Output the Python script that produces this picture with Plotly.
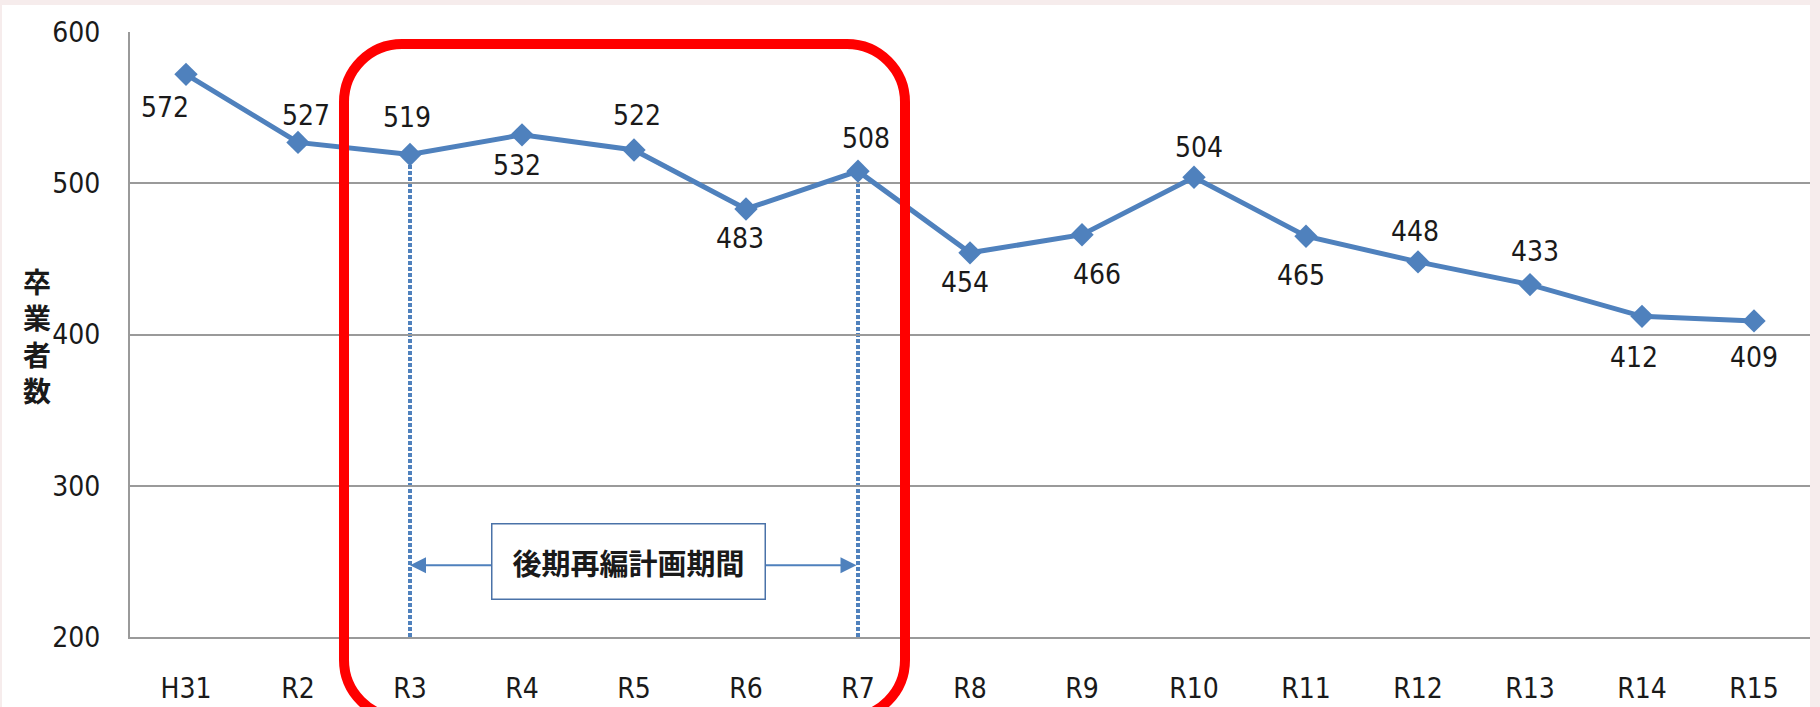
import plotly.graph_objects as go

# ---- data ----
categories = ["H31", "R2", "R3", "R4", "R5", "R6", "R7", "R8", "R9", "R10",
              "R11", "R12", "R13", "R14", "R15"]
graduates = [572, 527, 519, 532, 522, 483, 508, 454, 466, 504, 465, 448, 433, 412, 409]
y_ticks = [200, 300, 400, 500, 600]
period_start = "R3"
period_end = "R7"
period_label = "後期再編計画期間"
y_title = "卒業者数"

# ---- label offsets (px, dx right, dy down) ----
label_offsets = [(-21, 33), (8, -27), (-3, -37), (-5, 31), (3, -34), (-6, 30), (8, -33),
                 (-5, 30), (15, 40), (5, -30), (-5, 39), (-3, -30), (5, -33), (-8, 41), (0, 37)]

# ---- geometry ----
W, H = 1820, 707
ML, MR, MT, MB = 130, 10, 32, 70
PW, PH = W - ML - MR, H - MT - MB
YMIN, YMAX = 200, 600

def X(px):
    return (px - ML) / PW

def Y(py):
    return (H - MB - py) / PH

BLUE = "#4F81BD"
FONT = "DejaVu Sans Condensed, Liberation Sans Narrow, DejaVu Sans, sans-serif"
CJK = "Noto Sans CJK JP, sans-serif"
TXT = "#1a1a1a"
NUM_SIZE = 28

xs = list(range(len(categories)))

fig = go.Figure()
fig.add_trace(go.Scatter(
    x=xs, y=graduates, mode="lines+markers",
    line=dict(color=BLUE, width=5),
    marker=dict(symbol="diamond", size=18, color=BLUE),
    hoverinfo="skip", showlegend=False,
))

annotations = []
for i, (v, (dx, dy)) in enumerate(zip(graduates, label_offsets)):
    annotations.append(dict(
        x=i, y=v, xref="x", yref="y", text=str(v), showarrow=False,
        xshift=dx, yshift=-dy, font=dict(family=FONT, size=NUM_SIZE, color=TXT),
    ))

i0 = categories.index(period_start)
i1 = categories.index(period_end)
arrow_y = 247.5

# double arrow
annotations.append(dict(
    x=i0, y=arrow_y, ax=i1, ay=arrow_y, xref="x", yref="y", axref="x", ayref="y",
    text="", showarrow=True, arrowhead=2, startarrowhead=2, arrowside="end+start",
    arrowsize=1.6, startarrowsize=1.6, arrowwidth=2, arrowcolor=BLUE, standoff=0, startstandoff=0,
))
# label box
annotations.append(dict(
    x=(i0 + i1) / 2 - 0.045, y=250, xref="x", yref="y", text=period_label, showarrow=False,
    font=dict(family=CJK, size=29, color=TXT, weight="bold"),
    bgcolor="white", bordercolor="#4a72a8", borderwidth=1.5, width=270, height=72,
    align="center", valign="middle",
))
# y-axis title (stacked vertical)
annotations.append(dict(
    x=X(37), y=Y(336), xref="paper", yref="paper", text="<br>".join(list(y_title)),
    showarrow=False, font=dict(family=CJK, size=28, color=TXT, weight="bold"),
    xanchor="center", yanchor="middle",
))

shapes = []
# white panel
shapes.append(dict(type="rect", xref="paper", yref="paper", x0=X(2), x1=X(1810),
                   y0=Y(H + 20), y1=Y(5), fillcolor="white", line=dict(width=0), layer="below"))
# dotted verticals
for i in (i0, i1):
    shapes.append(dict(type="line", xref="x", yref="y", x0=i, x1=i, y0=YMIN, y1=graduates[i],
                       line=dict(color=BLUE, width=4, dash="4px,2px"), layer="below"))
# red rounded rectangle
L, R, T, B, r = 344, 905, 44, 718, 58
k = 0.552
def P(px, py):
    return f"{X(px):.5f},{Y(py):.5f}"
path = (
    f"M {P(L + r, T)} L {P(R - r, T)} "
    f"C {P(R - r + k * r, T)} {P(R, T + r - k * r)} {P(R, T + r)} "
    f"L {P(R, B - r)} "
    f"C {P(R, B - r + k * r)} {P(R - r + k * r, B)} {P(R - r, B)} "
    f"L {P(L + r, B)} "
    f"C {P(L + r - k * r, B)} {P(L, B - r + k * r)} {P(L, B - r)} "
    f"L {P(L, T + r)} "
    f"C {P(L, T + r - k * r)} {P(L + r - k * r, T)} {P(L + r, T)} Z"
)
shapes.append(dict(type="path", xref="paper", yref="paper", path=path,
                   line=dict(color="#ff0000", width=10), fillcolor="rgba(0,0,0,0)", layer="above"))

fig.update_layout(
    width=W, height=H,
    margin=dict(l=ML, r=MR, t=MT, b=MB, pad=0),
    paper_bgcolor="#f6ecec", plot_bgcolor="white",
    annotations=annotations, shapes=shapes,
    xaxis=dict(range=[-0.5, len(categories) - 0.5], tickvals=xs, ticktext=categories,
               showgrid=False, zeroline=False, showline=True, linecolor="#9a9a9a", linewidth=2,
               ticks="", tickfont=dict(family=FONT, size=NUM_SIZE, color=TXT), ticklabelstandoff=25,
               automargin=False, fixedrange=True),
    yaxis=dict(range=[YMIN, YMAX], tickvals=y_ticks, showgrid=True, gridcolor="#9a9a9a",
               gridwidth=2, zeroline=False, showline=True, linecolor="#9a9a9a", linewidth=2,
               ticks="", tickfont=dict(family=FONT, size=NUM_SIZE, color=TXT), ticklabelstandoff=22,
               automargin=False, fixedrange=True),
)

fig.write_html("out.html", config={"displayModeBar": False},
               post_script="document.body.style.margin='0';")
